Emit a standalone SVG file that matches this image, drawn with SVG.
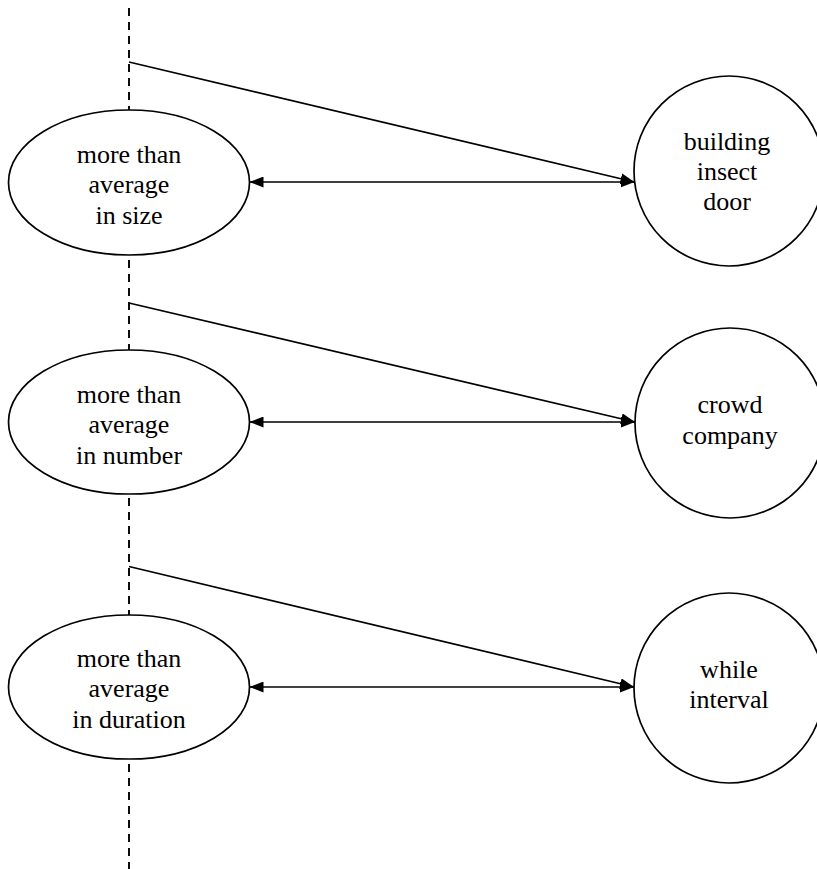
<svg xmlns="http://www.w3.org/2000/svg" width="817" height="869" viewBox="0 0 817 869">
<defs>
<style>
.nd{fill:#fff;stroke:#000;stroke-width:1.7}
.ed{fill:none;stroke:#000;stroke-width:1.7}
.lt{font-family:"Liberation Serif","Times New Roman",serif;font-size:26px;fill:#000;text-anchor:middle}
.dash{fill:none;stroke:#000;stroke-width:1.9;stroke-dasharray:8 6}
</style>
<marker id="ah" viewBox="0 0 14 11" refX="14" refY="5.5" markerWidth="14" markerHeight="11" markerUnits="userSpaceOnUse" orient="auto-start-reverse">
<path d="M0,0 L14,5.5 L0,11 z" fill="#000"/>
</marker>
</defs>
<rect width="817" height="869" fill="#fff"/>
<g id="connectors">
<line class="dash" x1="129" y1="8" x2="129" y2="869"/>
<line class="ed" x1="129" y1="62" x2="634.5" y2="182" marker-end="url(#ah)"/>
<line class="ed" x1="249.5" y1="182" x2="634.5" y2="182" marker-start="url(#ah)" marker-end="url(#ah)"/>
<line class="ed" x1="129" y1="303" x2="635" y2="422" marker-end="url(#ah)"/>
<line class="ed" x1="249.5" y1="422" x2="635" y2="422" marker-start="url(#ah)" marker-end="url(#ah)"/>
<line class="ed" x1="129" y1="566.5" x2="634" y2="687" marker-end="url(#ah)"/>
<line class="ed" x1="249.5" y1="687" x2="634" y2="687" marker-start="url(#ah)" marker-end="url(#ah)"/>
</g>
<g id="size">
<ellipse class="nd" cx="129" cy="182.5" rx="120.5" ry="72.5"/>
<text class="lt" x="129" y="163">more than</text>
<text class="lt" x="129" y="193">average</text>
<text class="lt" x="129" y="224">in size</text>
</g>
<g id="number">
<ellipse class="nd" cx="129" cy="422" rx="120.5" ry="72"/>
<text class="lt" x="129" y="403">more than</text>
<text class="lt" x="129" y="433">average</text>
<text class="lt" x="129" y="464">in number</text>
</g>
<g id="duration">
<ellipse class="nd" cx="129" cy="687" rx="120.5" ry="72"/>
<text class="lt" x="129" y="667">more than</text>
<text class="lt" x="129" y="697">average</text>
<text class="lt" x="129" y="728">in duration</text>
</g>
<g id="building">
<circle class="nd" cx="729" cy="171" r="95"/>
<text class="lt" x="727" y="150">building</text>
<text class="lt" x="727" y="180">insect</text>
<text class="lt" x="727" y="210">door</text>
</g>
<g id="crowd">
<circle class="nd" cx="730" cy="423" r="95"/>
<text class="lt" x="730" y="413">crowd</text>
<text class="lt" x="730" y="444">company</text>
</g>
<g id="while">
<circle class="nd" cx="729" cy="688" r="95"/>
<text class="lt" x="729" y="678">while</text>
<text class="lt" x="729" y="708">interval</text>
</g>
</svg>
